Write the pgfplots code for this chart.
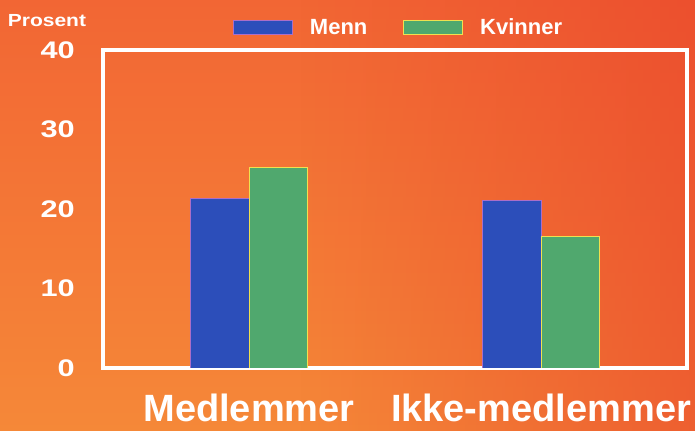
\documentclass[border=0pt]{standalone}
\usepackage{fontspec}
\setmainfont{Liberation Sans}
\newfontfamily\tickfont[FakeStretch=1.28]{Liberation Sans}
\newfontfamily\labfont[FakeStretch=1.2]{Liberation Sans}
\usepackage{pgfplots}
\pgfplotsset{compat=1.18}
\usetikzlibrary{fadings}
\definecolor{bgtop}{RGB}{242,102,52}
\definecolor{bgbot}{RGB}{245,136,56}
\definecolor{bgred}{RGB}{232,62,42}
\definecolor{menn}{RGB}{44,78,186}
\definecolor{mennedge}{RGB}{170,110,200}
\definecolor{kvinner}{RGB}{80,168,110}
\definecolor{kvedge}{RGB}{240,225,80}
\tikzfading[name=fade right, left color=transparent!100, right color=transparent!45]
\begin{document}
\begin{tikzpicture}
\path[use as bounding box] (0,0) rectangle (695bp,431bp);
\fill[top color=bgtop, bottom color=bgbot] (0,0) rectangle (695bp,431bp);
\fill[bgred, path fading=fade right] (300bp,0) rectangle (695bp,431bp);
\begin{axis}[
  at={(103bp,63bp)}, anchor=south west,
  scale only axis, width=584bp, height=318bp,
  xmin=-0.5, xmax=1.5, ymin=0, ymax=40,
  xtick={0,1}, xticklabels={Medlemmer, Ikke-medlemmer},
  ytick={0,10,20,30,40},
  major tick length=0pt,
  axis line style={white, line width=4bp},
  /pgf/number format/assume math mode=true,
  yticklabel style={font=\tickfont\bfseries\fontsize{24bp}{26bp}\selectfont, text=white, inner sep=0pt, anchor=east, xshift=-28bp},
  xticklabel style={font=\bfseries\fontsize{38bp}{40bp}\selectfont, text=white, inner sep=0pt, anchor=north, yshift=-26bp},
  ylabel={Prosent},
  every axis y label/.style={at={(axis description cs:-0.096,1.094)}, anchor=center, font=\labfont\bfseries\fontsize{17.5bp}{19bp}\selectfont, text=white},
  legend columns=-1,
  legend style={at={(axis description cs:0.2226,1.07)}, anchor=west, draw=none, fill=none, inner sep=0pt,
    nodes={inner sep=0pt, text=white, font=\bfseries\fontsize{22bp}{24bp}\selectfont},
    /tikz/every odd column/.append style={column sep=17bp},
    /tikz/every even column/.append style={column sep=36bp}},
  ybar, bar width=0.2,
]
\addplot[fill=menn, draw=mennedge, line width=0.8bp, bar shift=-0.1,
  legend image code/.code={\draw[fill=menn, draw=mennedge, line width=0.8bp] (0bp,-7bp) rectangle (59bp,7bp);}] coordinates {(0,21.3) (1,21.1)};
\addplot[fill=kvinner, draw=kvedge, line width=0.8bp, bar shift=0.1,
  legend image code/.code={\draw[fill=kvinner, draw=kvedge, line width=0.8bp] (0bp,-7bp) rectangle (59bp,7bp);}] coordinates {(0,25.2) (1,16.5)};
\legend{Menn, Kvinner}
\end{axis}
\end{tikzpicture}
\end{document}
